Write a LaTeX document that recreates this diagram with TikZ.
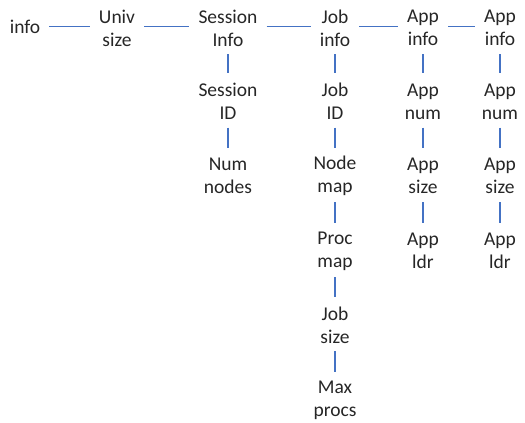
\documentclass[tikz,border=0pt]{standalone}
\usepackage{fontspec}
\setmainfont{Carlito}
\definecolor{lineblue}{RGB}{68,114,196}
\begin{document}
\begin{tikzpicture}[x=1pt,y=-1pt,
  lbl/.style={align=center,inner xsep=9pt,inner ysep=0pt,font=\fontsize{19.5}{23}\selectfont,text=black!85},
  hline/.style={color=lineblue,line width=1.3pt},
  vline/.style={color=lineblue,line width=1.3pt,shorten <=26pt,shorten >=28.5pt}]
\useasboundingbox (0,0) rectangle (525,423);
\def\ra{28}\def\rb{101.5}\def\rc{176}\def\rd{251}\def\re{325}\def\rf{400}
\node[lbl] (info) at (25,26.5) {info};
\node[lbl] (univ) at (117,\ra) {Univ\\size};
\node[lbl] (sess) at (228,\ra) {Session\\Info};
\node[lbl] (job) at (335,\ra) {Job\\info};
\node[lbl] (appa) at (423,\ra) {App\\info};
\node[lbl] (appb) at (500,\ra) {App\\info};
\node[lbl] (sid) at (228,\rb) {Session\\ID};
\node[lbl] (nn) at (228,\rc) {Num\\nodes};
\node[lbl] (jid) at (335,\rb) {Job\\ID};
\node[lbl] (nmap) at (335,\rc) {Node\\map};
\node[lbl] (pmap) at (335,\rd) {Proc\\map};
\node[lbl] (jsz) at (335,\re) {Job\\size};
\node[lbl] (mp) at (335,\rf) {Max\\procs};
\node[lbl] (anuma) at (423,\rb) {App\\num};
\node[lbl] (asza) at (423,\rc) {App\\size};
\node[lbl] (aldra) at (423,\rd) {App\\ldr};
\node[lbl] (anumb) at (500,\rb) {App\\num};
\node[lbl] (aszb) at (500,\rc) {App\\size};
\node[lbl] (aldrb) at (500,\rd) {App\\ldr};
\draw[hline] (info.east) -- (univ.west|-info.east);
\draw[hline] (univ.east|-info.east) -- (sess.west|-info.east);
\draw[hline] (sess.east|-info.east) -- (job.west|-info.east);
\draw[hline] (job.east|-info.east) -- (appa.west|-info.east);
\draw[hline] (appa.east|-info.east) -- (appb.west|-info.east);
\draw[vline] (sess.center) -- (sid.center);
\draw[vline] (sid.center) -- (nn.center);
\draw[vline] (job.center) -- (jid.center);
\draw[vline] (jid.center) -- (nmap.center);
\draw[vline] (nmap.center) -- (pmap.center);
\draw[vline] (pmap.center) -- (jsz.center);
\draw[vline] (jsz.center) -- (mp.center);
\draw[vline] (appa.center) -- (anuma.center);
\draw[vline] (anuma.center) -- (asza.center);
\draw[vline] (asza.center) -- (aldra.center);
\draw[vline] (appb.center) -- (anumb.center);
\draw[vline] (anumb.center) -- (aszb.center);
\draw[vline] (aszb.center) -- (aldrb.center);
\end{tikzpicture}
\end{document}
